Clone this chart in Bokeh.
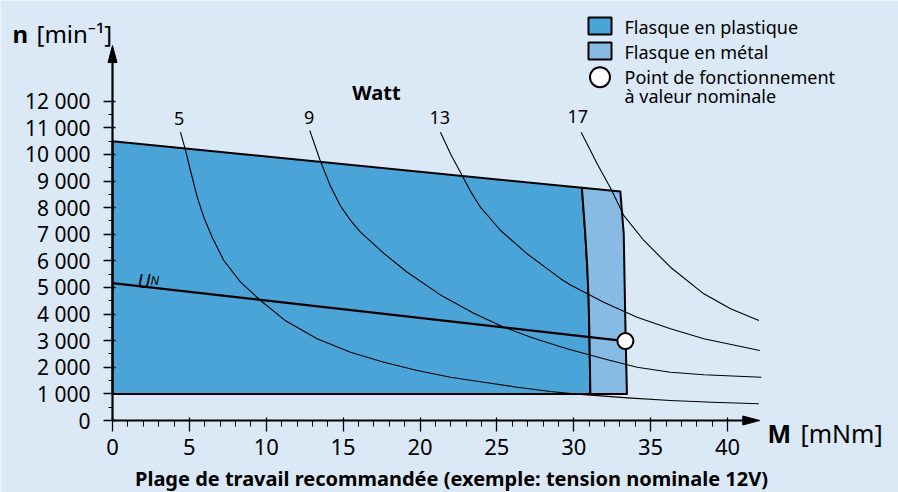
from bokeh.plotting import figure
from bokeh.models import Range1d, FixedTicker, Label
from bokeh.embed import file_html
from bokeh.resources import INLINE

# ---------------- data ----------------
x_ticks = [0, 5, 10, 15, 20, 25, 30, 35, 40]
x_minor = [i for i in range(0, 41) if i % 5 != 0]
y_ticks = [0, 1000, 2000, 3000, 4000, 5000, 6000, 7000, 8000, 9000, 10000, 11000, 12000]
y_tick_labels = ["0", "1 000", "2 000", "3 000", "4 000", "5 000", "6 000", "7 000",
                 "8 000", "9 000", "10 000", "11 000", "12 000"]
y_minor = [500, 1500, 2500, 3500, 4500, 5500, 6500, 7500, 8500, 9500, 10500, 11500]

# working-range boundaries
top_m = [0, 30.53, 33.03]
top_n = [10490, 8745, 8605]
plastic_edge_m = [30.53, 30.75, 30.88, 30.97, 31.03, 31.08]
plastic_edge_n = [8745, 7020, 5750, 4510, 2900, 1000]
metal_edge_m = [33.03, 33.25, 33.33, 33.38, 33.46]
metal_edge_n = [8605, 7020, 4500, 2980, 1000]
bottom_n = 1000

# power curves (Watt)
curve_powers = ["5", "9", "13", "17"]
curve5_m = [4.42, 4.75, 5.07, 5.51, 5.94, 6.48, 7.24, 8.33, 9.63, 11.2, 13.31, 15.48, 17.65,
            19.82, 21.98, 24.15, 26.32, 28.49, 30.0, 31.1, 33.5, 36.29, 39.0, 42.04]
curve5_n = [10835, 10160, 9395, 8392, 7640, 6889, 6013, 5198, 4510, 3770, 3070, 2567, 2191,
            1879, 1627, 1439, 1251, 1090, 1000, 955, 850, 752, 685, 627]
curve9_m = [12.83, 13.49, 14.18, 14.83, 15.48, 16.13, 17.65, 19.17, 21.33, 23.5, 25.45, 27.3,
            29.14, 29.79, 31.95, 34.12, 36.29, 38.46, 42.2]
curve9_n = [10898, 9800, 8800, 8060, 7520, 7080, 6280, 5573, 4720, 4030, 3506, 3110,
            2770, 2660, 2319, 2003, 1815, 1717, 1627]
curve13_m = [21.33, 21.98, 22.74, 23.28, 23.93, 25.24, 26.97, 29.14, 29.79, 31.95, 34.12,
             36.29, 38.46, 42.1]
curve13_n = [10835, 10023, 9207, 8620, 8016, 7140, 6264, 5330, 5090, 4446, 3882,
             3446, 3070, 2631]
curve17_m = [30.48, 30.98, 31.52, 32.39, 33.26, 34.56, 36.29, 38.46, 40.2, 42.04]
curve17_n = [10835, 10270, 9646, 8740, 7700, 6765, 5761, 4761, 4198, 3758]

# nominal voltage line and nominal operating point
un_m = [0, 33.36]
un_n = [5163, 2983]
op_m = [33.36]
op_n = [2983]

legend_labels = ["Flasque en plastique", "Flasque en métal",
                 "Point de fonctionnement", "à valeur nominale"]

# ---------------- styling / layout ----------------
BG = "#dbe9f6"
PLASTIC = "#4aa4d8"
METAL = "#87bbe3"
FONT = "Noto Sans"

W, H = 898, 492
X0, Y0 = 112, 420   # pixel position of the origin
XS = 15.375      # px per mNm
YS = 0.02661     # px per min^-1


def mx(px):
    """pixel x -> data x"""
    return (px - X0) / XS


def ny(py):
    """pixel y -> data y"""
    return (Y0 - py) / YS


p = figure(width=W, height=H, x_range=Range1d(mx(0), mx(W)), y_range=Range1d(ny(H), ny(0)),
           output_backend="svg", toolbar_location=None,
           min_border_left=0, min_border_right=0, min_border_top=0, min_border_bottom=0)
p.background_fill_color = BG
p.border_fill_color = BG
p.outline_line_color = None
p.grid.visible = False

# ---------------- regions ----------------
plastic_xs = [0, 0, top_m[1]] + plastic_edge_m[1:]
plastic_ys = [bottom_n, top_n[0], top_n[1]] + plastic_edge_n[1:]
p.patch(plastic_xs, plastic_ys, fill_color=PLASTIC, line_color="black", line_width=2,
        line_join="round")

metal_xs = [top_m[1], top_m[2]] + metal_edge_m[1:] + plastic_edge_m[::-1][:-1]
metal_ys = [top_n[1], top_n[2]] + metal_edge_n[1:] + plastic_edge_n[::-1][:-1]
p.patch(metal_xs, metal_ys, fill_color=METAL, line_color="black", line_width=2,
        line_join="round")

# ---------------- curves ----------------
for cm, cn in [(curve5_m, curve5_n), (curve9_m, curve9_n), (curve13_m, curve13_n), (curve17_m, curve17_n)]:
    p.line(cm, cn, line_color="black", line_width=1.1, line_join="round")

p.line(un_m, un_n, line_color="black", line_width=2.2)
p.scatter(op_m, op_n, size=16, fill_color="white", line_color="black", line_width=2)

# ---------------- axes ----------------
X_AXIS_END = 42.1
Y_AXIS_END = 14090

p.xaxis.fixed_location = 0
p.yaxis.fixed_location = 0
p.xaxis.ticker = FixedTicker(ticks=x_ticks, minor_ticks=x_minor)
p.xaxis.bounds = (0, 41.3)
p.yaxis.ticker = FixedTicker(ticks=y_ticks, minor_ticks=y_minor)
p.yaxis.bounds = (0, 13600)
p.yaxis.major_label_overrides = {t: l for t, l in zip(y_ticks, y_tick_labels)}
for ax in (p.xaxis, p.yaxis):
    ax.axis_line_width = 2.2
    ax.axis_line_color = "black"
    ax.major_tick_line_color = "black"
    ax.minor_tick_line_color = "black"
    ax.major_tick_line_width = 1.3
    ax.minor_tick_line_width = 1
    ax.major_label_text_font = FONT
    ax.major_label_text_color = "black"
p.xaxis.major_tick_in = 3
p.xaxis.major_tick_out = 11
p.xaxis.minor_tick_in = 0
p.xaxis.minor_tick_out = 6
p.xaxis.major_label_text_font_size = "22px"
p.xaxis.major_label_standoff = 7
p.yaxis.major_tick_in = 3
p.yaxis.major_tick_out = 9
p.yaxis.minor_tick_in = 0
p.yaxis.minor_tick_out = 4
p.yaxis.major_label_text_font_size = "21px"
p.yaxis.major_label_standoff = 13

# arrow heads (17 px long, 9 px wide)
p.patch([-4.5 / XS, 0, 4.5 / XS], [Y_AXIS_END - 17 / YS, Y_AXIS_END, Y_AXIS_END - 17 / YS],
        fill_color="black", line_color="black", line_width=1)
p.patch([X_AXIS_END - 17 / XS, X_AXIS_END, X_AXIS_END - 17 / XS], [-4.5 / YS, 0, 4.5 / YS],
        fill_color="black", line_color="black", line_width=1)


def lab(x, y, text, size, bold=False, italic=False, align="left", baseline="middle"):
    style = "bold" if bold else ("italic" if italic else "normal")
    p.add_layout(Label(x=x, y=y, text=text, text_font=FONT, text_font_size=size,
                       text_font_style=style, text_align=align, text_baseline=baseline,
                       text_color="black"))


# axis titles
lab(mx(12), ny(33), "n", "24px", bold=True, baseline="alphabetic")
lab(mx(36), ny(33), "[min⁻¹]", "24px", baseline="alphabetic")
lab(mx(767), ny(432), "M", "25px", bold=True, baseline="alphabetic")
lab(mx(800), ny(432), "[mNm]", "25px", baseline="alphabetic")

# curve labels
lab(mx(376), ny(92), "Watt", "20px", bold=True, align="center", baseline="alphabetic")
for t, (lx, ly) in zip(curve_powers, [(178.7, 118), (308.7, 117), (439.3, 117), (577.3, 116)]):
    lab(mx(lx), ny(ly), t, "18px", align="center")

# U_N label
lab(mx(137), ny(280), "U", "19px", italic=True, baseline="alphabetic")
lab(mx(150), ny(280), "N", "12px", italic=True, baseline="alphabetic")

# legend
p.quad(left=[mx(588), mx(588)], right=[mx(611), mx(611)], top=[ny(17), ny(42)], bottom=[ny(34), ny(59)],
       fill_color=[PLASTIC, METAL], line_color="black", line_width=2)
p.scatter([mx(599.5)], [ny(76.7)], size=20, fill_color="white", line_color="black", line_width=2)
for t, ly in zip(legend_labels, [26.7, 51.7, 76.7, 95.7]):
    lab(mx(624), ny(ly), t, "18px")

# caption
lab(mx(451), ny(478), "Plage de travail recommandée (exemple: tension nominale 12V)", "20px",
    bold=True, align="center", baseline="middle")

open("out.html", "w").write(file_html(p, INLINE))
